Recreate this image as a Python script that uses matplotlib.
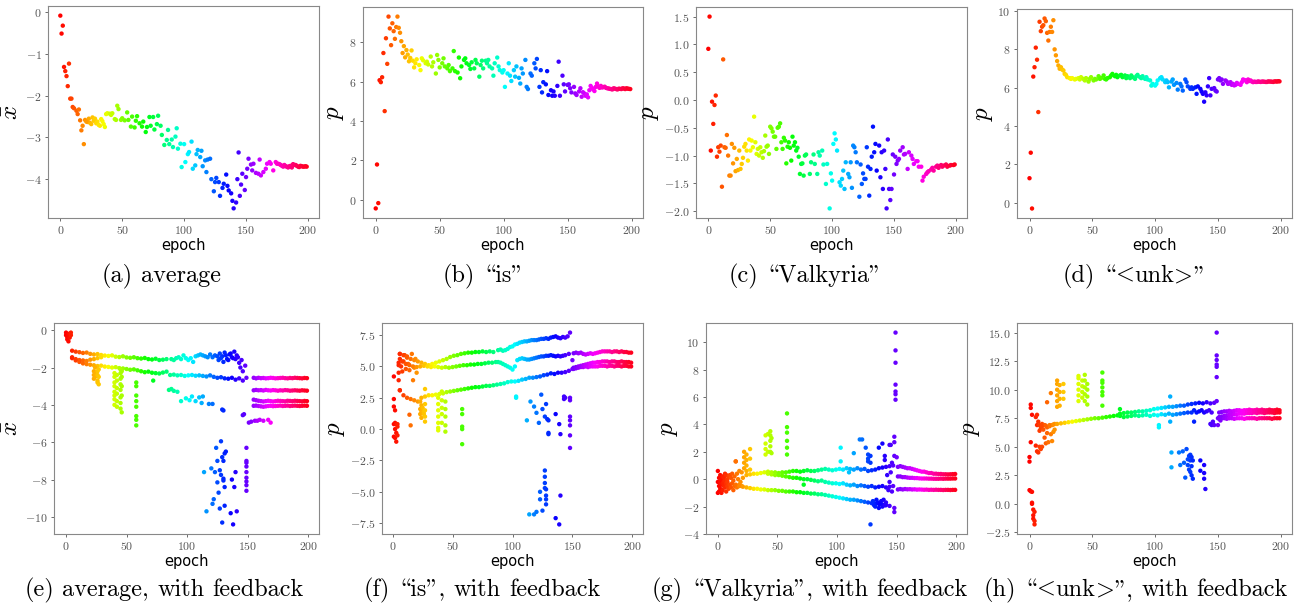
import numpy as np
import matplotlib
matplotlib.use('Agg')
import matplotlib.pyplot as plt
from matplotlib.ticker import MultipleLocator

plt.rcParams['font.family'] = ['cmr10', 'DejaVu Serif']
plt.rcParams['mathtext.fontset'] = 'cm'
plt.rcParams['axes.formatter.use_mathtext'] = True

# ---------------- (a) average ----------------
a_epoch = [0, 1, 2, 3, 4, 5, 6, 7, 8, 9,
           10, 11, 13, 14, 15, 16, 17, 18, 19, 20,
           22, 23, 24, 26, 27, 30, 32, 33, 35, 38,
           21, 25, 28, 29, 31, 34, 36, 37,
           40, 41, 42, 44, 45, 46, 47, 49, 50, 52,
           54, 55, 57, 58, 60, 61, 62, 64, 66, 67,
           69, 70, 72, 73, 75, 76, 78, 79, 81, 82,
           84, 86, 87, 88, 90, 91, 93, 94, 95, 97,
           98, 100, 101, 103, 104, 106, 107, 109, 110, 111,
           113, 114, 115, 117, 118, 119, 121, 122, 124, 125,
           126, 128, 129, 131, 132, 134, 135, 136, 138, 139,
           140, 142, 143, 144, 145, 146, 147, 149, 150, 151,
           152, 154, 155, 156, 158, 160, 161, 162, 164, 166,
           167, 169, 170, 172, 174, 175, 176, 178, 180, 182,
           184, 186, 188, 190, 192, 194, 196, 198, 199, 177,
           179, 181, 183, 185, 187, 189, 191, 193, 195, 197]
a_value = [-0.08, -0.51, -0.32, -1.31, -1.41, -1.53, -1.77, -1.23, -2.07, -2.07,
           -2.27, -2.30, -2.36, -2.44, -2.33, -2.59, -2.83, -2.72, -3.16, -2.58,
           -2.63, -2.55, -2.65, -2.52, -2.60, -2.62, -2.72, -2.56, -2.68, -2.42,
           -2.62, -2.68, -2.55, -2.66, -2.70, -2.61, -2.75, -2.44,
           -2.43, -2.46, -2.42, -2.56, -2.58, -2.24, -2.32, -2.58, -2.54, -2.59,
           -2.40, -2.58, -2.74, -2.50, -2.76, -2.60, -2.49, -2.66, -2.74, -2.62,
           -2.87, -2.75, -2.51, -2.72, -2.51, -2.81, -2.68, -2.48, -2.72, -2.94,
           -3.18, -3.06, -2.82, -3.16, -3.05, -3.23, -2.98, -2.78, -3.27, -3.15,
           -3.71, -3.16, -3.59, -3.40, -3.35, -3.10, -3.75, -3.67, -3.40, -3.30,
           -3.47, -3.32, -3.69, -3.55, -3.83, -3.53, -3.51, -4.00, -4.29, -4.07,
           -3.97, -4.07, -4.40, -4.21, -4.11, -3.89, -4.16, -4.27, -4.34, -4.52,
           -4.70, -4.56, -4.00, -3.36, -4.40, -4.13, -3.87, -4.26, -3.95, -3.75,
           -3.51, -3.65, -3.79, -3.63, -3.85, -3.87, -3.53, -3.91, -3.83, -3.75,
           -3.63, -3.59, -3.63, -3.79, -3.59, -3.63, -3.63, -3.66, -3.70, -3.69,
           -3.72, -3.68, -3.64, -3.66, -3.70, -3.68, -3.70, -3.69, -3.70, -3.64,
           -3.68, -3.66, -3.70, -3.69, -3.72, -3.66, -3.68, -3.71, -3.69, -3.70]

# ---------------- (b) "is" ----------------
b_epoch = [0, 1, 2, 3, 4, 5, 6, 7, 8, 9,
           10, 11, 12, 13, 14, 15, 16, 17, 18, 19,
           20, 21, 22, 23, 24, 25, 26, 27, 28, 29,
           30, 31, 32, 34, 35, 36, 37, 39, 40, 41,
           43, 44, 45, 47, 48, 49, 50, 52, 53, 54,
           56, 57, 58, 60, 61, 62, 64, 65, 66, 67,
           69, 70, 71, 73, 74, 75, 77, 78, 79, 81,
           82, 83, 84, 86, 87, 88, 89, 91, 92, 93,
           95, 96, 97, 99, 100, 101, 103, 104, 105, 106,
           108, 109, 110, 112, 113, 114, 115, 117, 118, 119,
           121, 122, 124, 125, 126, 128, 129, 130, 131, 133,
           134, 135, 137, 138, 139, 140, 142, 143, 144, 146,
           147, 148, 150, 151, 152, 153, 155, 156, 157, 159,
           160, 161, 163, 164, 165, 167, 168, 169, 171, 172,
           173, 175, 176, 178, 180, 182, 184, 186, 188, 190,
           192, 194, 196, 198, 199, 177, 179, 181, 183, 185,
           187, 189, 191, 193, 195, 197, 174, 170, 166, 162]
b_value = [-0.44, 1.79, -0.17, 6.07, 5.97, 6.22, 7.45, 4.50, 8.20, 6.90,
           9.30, 8.70, 7.85, 8.96, 8.56, 8.17, 8.77, 9.30, 8.73, 8.48,
           8.05, 7.45, 7.80, 7.23, 7.60, 7.37, 7.03, 7.20, 7.58, 7.06,
           6.72, 6.93, 7.13, 6.84, 6.58, 7.18, 7.08, 6.93, 7.01, 6.87,
           7.27, 6.77, 6.98, 6.41, 7.35, 7.10, 6.72, 6.93, 7.18, 6.77,
           6.67, 6.84, 6.53, 6.67, 7.55, 6.53, 6.46, 7.22, 6.17, 6.77,
           7.10, 7.18, 6.93, 6.84, 6.64, 6.98, 6.67, 7.10, 6.93, 6.25,
           6.84, 7.06, 6.67, 7.06, 6.93, 7.10, 6.77, 6.67, 6.30, 6.93,
           7.22, 6.77, 6.58, 6.46, 6.58, 5.73, 6.41, 6.93, 6.30, 6.03,
           6.58, 6.25, 6.77, 6.19, 5.90, 6.67, 6.41, 7.10, 5.73, 5.62,
           6.41, 6.30, 6.93, 6.67, 7.15, 5.73, 6.58, 5.45, 5.97, 5.86,
           6.53, 5.32, 5.56, 5.28, 5.50, 5.28, 5.78, 7.01, 5.28, 6.30,
           5.86, 5.50, 5.83, 5.86, 5.66, 5.45, 5.73, 5.40, 5.32, 5.50,
           5.66, 5.23, 5.40, 5.28, 5.35, 5.56, 5.78, 5.68, 5.52, 5.73,
           5.90, 5.68, 5.78, 5.72, 5.68, 5.65, 5.62, 5.66, 5.62, 5.64,
           5.62, 5.65, 5.66, 5.63, 5.62, 5.70, 5.74, 5.66, 5.63, 5.60,
           5.64, 5.60, 5.63, 5.66, 5.62, 5.64, 5.75, 5.60, 5.20, 5.46]

# ---------------- (c) "Valkyria" ----------------
c_epoch = [0, 1, 2, 3, 4, 5, 6, 7, 8, 9,
           10, 11, 12, 13, 14, 15, 16, 17, 18, 19,
           20, 21, 22, 23, 24, 25, 26, 27, 28, 29,
           30, 31, 32, 33, 34, 35, 36, 37, 38, 39,
           40, 41, 42, 43, 44, 45, 46, 47, 48, 49,
           50, 51, 52, 53, 54, 55, 56, 57, 58, 59,
           60, 61, 62, 63, 64, 65, 66, 67, 68, 69,
           70, 71, 72, 73, 74, 75, 76, 77, 78, 79,
           82, 83, 85, 86, 88, 89, 90, 92, 93, 95,
           96, 98, 99, 100, 101, 102, 103, 104, 106, 107,
           108, 109, 110, 111, 113, 114, 115, 116, 117, 118,
           119, 120, 122, 123, 124, 125, 126, 127, 128, 129,
           130, 131, 132, 133, 134, 135, 136, 138, 139, 140,
           141, 142, 143, 144, 145, 146, 147, 148, 149, 150,
           151, 152, 153, 154, 155, 157, 158, 159, 161, 162,
           164, 165, 166, 168, 169, 170, 172, 173, 174, 176,
           177, 178, 180, 181, 182, 184, 185, 186, 188, 189,
           190, 192, 193, 195, 196, 198, 199]
c_value = [0.92, 1.50, -0.91, -0.03, -0.43, -0.09, 0.08, -1.02, -0.85, -0.93,
           -0.82, -1.56, 0.73, -0.85, -0.86, -0.63, -1.00, -1.36, -1.36, -0.79,
           -1.14, -0.86, -1.28, -1.06, -1.26, -0.91, -1.24, -1.15, -1.04, -0.84,
           -0.79, -0.91, -1.09, -0.71, -0.91, -0.73, -0.85, -0.30, -0.76, -0.97,
           -0.88, -1.00, -0.85, -0.94, -1.04, -0.92, -0.64, -0.84, -0.82, -0.97,
           -0.48, -0.51, -0.57, -0.66, -0.66, -0.88, -0.50, -0.48, -0.42, -0.76,
           -0.88, -0.68, -0.73, -1.14, -0.84, -0.76, -0.86, -1.09, -0.66, -0.82,
           -0.76, -0.91, -0.86, -1.02, -1.33, -1.15, -1.14, -1.36, -1.00, -0.98,
           -1.33, -1.12, -0.98, -1.15, -1.33, -0.94, -1.00, -0.91, -1.16, -1.51,
           -1.15, -1.95, -1.32, -1.45, -0.79, -0.60, -0.71, -0.91, -1.48, -1.54,
           -1.42, -1.27, -1.60, -1.12, -1.33, -1.39, -1.12, -1.58, -0.82, -0.85,
           -0.94, -1.12, -1.74, -1.16, -1.51, -1.32, -1.42, -1.42, -0.85, -1.20,
           -1.72, -1.24, -1.02, -0.48, -0.94, -0.79, -1.27, -0.82, -1.39, -0.94,
           -1.60, -0.91, -1.24, -1.95, -0.71, -1.60, -1.80, -1.60, -0.98, -1.34,
           -1.02, -1.15, -1.09, -1.06, -0.91, -0.85, -0.98, -0.97, -1.24, -0.94,
           -1.00, -1.06, -1.15, -1.10, -1.10, -1.20, -1.20, -1.45, -1.38, -1.33,
           -1.30, -1.28, -1.25, -1.22, -1.27, -1.20, -1.18, -1.22, -1.17, -1.20,
           -1.18, -1.16, -1.20, -1.18, -1.17, -1.17, -1.16]

# ---------------- (d) "<unk>" ----------------
d_epoch = [0, 1, 2, 3, 4, 5, 6, 7, 8, 9,
           10, 11, 12, 13, 14, 15, 16, 17, 18, 19,
           20, 21, 22, 23, 24, 25, 26, 27, 28, 29,
           30, 32, 33, 34, 36, 37, 39, 40, 41, 43,
           44, 45, 47, 48, 49, 51, 52, 53, 55, 56,
           57, 59, 60, 61, 62, 64, 65, 66, 68, 69,
           70, 72, 73, 74, 76, 77, 78, 80, 81, 82,
           84, 85, 86, 88, 89, 90, 92, 93, 94, 96,
           97, 98, 100, 101, 102, 104, 105, 106, 108, 109,
           110, 111, 113, 114, 115, 117, 118, 120, 121, 122,
           124, 125, 126, 128, 129, 130, 132, 133, 134, 136,
           137, 138, 139, 140, 141, 142, 143, 144, 145, 147,
           148, 149, 150, 151, 152, 153, 154, 156, 157, 158,
           160, 161, 162, 164, 165, 166, 168, 169, 170, 172,
           173, 174, 176, 177, 178, 180, 182, 184, 186, 188,
           190, 192, 194, 196, 198, 199, 179, 181, 183, 185,
           187, 189, 191, 193, 195, 197, 171, 175, 163, 159]
d_value = [1.28, 2.61, -0.30, 6.58, 7.07, 8.09, 7.46, 4.73, 9.44, 8.95,
           9.18, 9.26, 9.61, 9.47, 8.86, 8.46, 8.91, 9.18, 8.91, 9.52,
           8.00, 7.69, 7.39, 7.16, 6.99, 7.07, 6.95, 6.90, 6.72, 6.67,
           6.55, 6.50, 6.46, 6.50, 6.43, 6.46, 6.50, 6.43, 6.55, 6.46,
           6.38, 6.50, 6.32, 6.46, 6.55, 6.38, 6.46, 6.43, 6.60, 6.46,
           6.50, 6.64, 6.46, 6.43, 6.50, 6.55, 6.64, 6.72, 6.60, 6.67,
           6.55, 6.64, 6.67, 6.55, 6.64, 6.50, 6.60, 6.50, 6.64, 6.55,
           6.46, 6.60, 6.67, 6.55, 6.50, 6.60, 6.46, 6.55, 6.43, 6.38,
           6.11, 6.20, 6.11, 6.20, 6.38, 6.50, 6.55, 6.43, 6.29, 6.38,
           6.29, 6.02, 6.32, 6.43, 6.15, 6.25, 5.90, 6.20, 6.07, 5.85,
           6.43, 6.29, 6.07, 5.94, 6.02, 5.94, 6.02, 5.68, 6.07, 5.94,
           5.80, 5.68, 5.27, 5.76, 5.60, 6.07, 6.50, 5.60, 5.94, 5.98,
           5.85, 5.80, 6.43, 6.50, 6.38, 6.43, 6.20, 6.38, 6.32, 6.20,
           6.29, 6.15, 6.20, 6.15, 6.25, 6.20, 6.15, 6.29, 6.43, 6.38,
           6.29, 6.43, 6.38, 6.32, 6.29, 6.30, 6.33, 6.30, 6.32, 6.30,
           6.33, 6.32, 6.30, 6.33, 6.34, 6.33, 6.32, 6.30, 6.31, 6.32,
           6.31, 6.30, 6.32, 6.31, 6.33, 6.32, 6.40, 6.35, 6.12, 6.22]

# ---------------- (e) average, with feedback ----------------
e_start_ep = [0, 0, 1, 1, 2, 2, 3, 3, 4, 4]
e_start_val = [-0.13, -0.27, -0.49, -0.36, -0.60, -0.23, -0.18, -0.40, -0.27, -0.13]
e_top_ep = list(range(5, 86, 3))
e_top_val = [-1.10, -1.15, -1.18, -1.22, -1.20, -1.27, -1.30, -1.28, -1.33, -1.36,
             -1.38, -1.35, -1.42, -1.44, -1.40, -1.46, -1.48, -1.45, -1.50, -1.52,
             -1.49, -1.55, -1.57, -1.53, -1.60, -1.58, -1.55]
e_mid_ep = list(range(5, 30, 3))
e_mid_val = [-1.45, -1.55, -1.60, -1.62, -1.65, -1.58, -1.55, -1.50, -1.45]
e_low_ep = list(range(5, 86, 3))
e_low_val = [-1.50, -1.62, -1.70, -1.78, -1.82, -1.85, -1.88, -1.92, -1.90, -1.95,
             -1.97, -2.00, -1.98, -2.03, -2.05, -2.08, -2.12, -2.10, -2.15, -2.20,
             -2.25, -2.22, -2.28, -2.30, -2.32, -2.27, -2.22]
e_top2_ep = [87, 89, 91, 93, 95, 97, 99, 101, 103, 105,
             107, 109, 111, 113, 115, 117, 119, 121, 123, 125,
             127, 129, 131, 133, 135, 137, 139, 141, 143, 145, 148,
             126, 128, 130, 132, 134, 136, 138, 140, 142, 144, 146]
e_top2_val = [-1.55, -1.60, -1.50, -1.45, -1.55, -1.35, -1.50, -1.60, -1.50, -1.70,
              -1.40, -1.35, -1.30, -1.35, -1.40, -1.45, -1.30, -1.45, -1.35, -1.40,
              -1.25, -1.40, -1.20, -1.55, -1.30, -1.45, -1.15, -1.35, -1.75, -1.60, -1.90,
              -1.60, -1.50, -1.70, -1.35, -1.60, -1.25, -1.50, -1.55, -1.45, -2.00, -2.20]
e_low2_ep = list(range(86, 150, 3))
e_low2_val = [-2.40, -2.38, -2.42, -2.40, -2.45, -2.42, -2.40, -2.44, -2.42, -2.45,
              -2.48, -2.42, -2.50, -2.55, -2.52, -2.58, -2.60, -2.55, -2.65, -2.58,
              -2.70, -2.55]
e_desc_ep = [85, 87, 89, 92, 95, 99, 102, 104, 107, 110,
             112, 113, 118, 121, 129, 130, 146, 147,
             151, 153, 156, 158, 160, 163, 167, 169]
e_desc_val = [-3.20, -3.15, -3.25, -3.30, -3.80, -3.65, -3.75, -3.55, -3.80, -3.60,
              -3.90, -3.55, -3.95, -3.95, -4.25, -4.30, -4.55, -4.50,
              -4.95, -4.90, -4.85, -4.85, -4.80, -4.85, -4.80, -4.95]
e_col_ep = [23, 23, 23, 24, 24, 24, 26, 26, 26, 26, 27, 27, 27,
            40, 40, 40, 40, 40, 40, 40, 40, 42, 42, 42, 42, 42, 42,
            45, 45, 45, 45, 45, 45, 45, 45, 46, 46, 46, 46, 46,
            58, 58, 58, 58, 58, 58, 58, 58, 72]
e_col_val = [-2.2, -2.4, -2.6, -2.0, -2.3, -2.5, -2.2, -2.4, -2.7, -2.8, -2.1, -2.5, -2.9,
             -2.3, -2.5, -2.8, -3.0, -3.3, -3.5, -3.7, -4.0, -2.4, -2.7, -3.1, -3.4, -3.8, -4.1,
             -2.1, -2.3, -2.6, -2.9, -3.2, -3.6, -3.9, -4.2, -2.2, -2.5, -3.0, -3.5, -4.4,
             -2.8, -3.0, -3.5, -3.8, -4.1, -4.6, -4.8, -5.1, -2.7]
e_far_ep = [114, 116, 120, 121, 122, 123, 124, 125, 125, 126,
            127, 127, 128, 128, 129, 129, 130, 130, 130, 131,
            131, 131, 132, 136, 137, 138, 139, 140, 141,
            149, 149, 149, 149, 149, 149, 149, 149, 149]
e_far_val = [-7.6, -9.7, -7.4, -9.3, -9.05, -7.6, -6.3, -8.15, -7.0, -8.7,
             -9.55, -7.5, -5.95, -7.75, -6.8, -10.3, -7.0, -8.05, -7.95, -6.6,
             -8.4, -9.4, -6.5, -9.8, -8.0, -10.4, -8.4, -7.6, -9.7,
             -6.3, -7.0, -7.1, -7.3, -7.6, -7.9, -8.1, -8.3, -8.6]
e_late_ep = list(range(155, 200, 2))
e_late1 = [-2.55, -2.58, -2.55, -2.57, -2.56, -2.58, -2.57, -2.55, -2.56, -2.58,
           -2.57, -2.56, -2.55, -2.57, -2.58, -2.56, -2.57, -2.55, -2.56, -2.57,
           -2.58, -2.56, -2.57]
e_late2 = [-3.22, -3.20, -3.22, -3.21, -3.23, -3.20, -3.22, -3.23, -3.21, -3.22,
           -3.24, -3.22, -3.23, -3.21, -3.22, -3.24, -3.23, -3.22, -3.23, -3.24,
           -3.22, -3.23, -3.24]
e_late3 = [-3.72, -3.75, -3.78, -3.80, -3.82, -3.80, -3.78, -3.80, -3.82, -3.80,
           -3.78, -3.79, -3.80, -3.81, -3.78, -3.79, -3.80, -3.78, -3.79, -3.80,
           -3.81, -3.79, -3.80]
e_late4 = [-4.05, -4.04, -4.06, -4.08, -4.10, -4.08, -4.06, -4.05, -4.07, -4.06,
           -4.05, -4.04, -4.06, -4.05, -4.04, -4.06, -4.05, -4.04, -4.05, -4.06,
           -4.05, -4.04, -4.05]

# ---------------- (f) "is", with feedback ----------------
f_start_ep = [1, 1, 1, 1, 1, 2, 2, 2, 2, 3, 3, 3, 4, 4, 4, 5, 5, 5, 5, 6, 6, 6,
              7, 8, 9, 10, 11, 12, 13, 14, 16, 18, 19, 20]
f_start_val = [4.2, 2.4, 1.8, 0.4, -0.6, 1.5, 0.5, 0.0, -0.7, 0.4, -0.3, -1.0,
               0.4, -0.5, 0.2, 3.9, 4.5, 5.1, 5.3, 6.0, 5.6, 3.1,
               5.0, 4.6, 5.4, 5.9, 4.8, 5.7, 5.2, 4.7, 6.0, 4.9, 5.6, 4.5]
f_top_ep = list(range(6, 87, 3))
f_top_val = [6.0, 5.9, 5.8, 5.6, 5.5, 5.4, 5.3, 5.2, 5.1, 5.2,
             5.3, 5.4, 5.5, 5.6, 5.75, 5.85, 5.9, 6.0, 6.05, 6.1,
             6.1, 6.15, 6.15, 6.2, 6.15, 6.2, 6.15]
f_mid_ep = list(range(8, 87, 3))
f_mid_val = [5.4, 5.2, 5.1, 5.0, 4.95, 5.0, 5.05, 5.0, 4.95, 5.0,
             4.95, 4.9, 4.95, 4.9, 4.95, 5.0, 5.05, 5.1, 5.1, 5.15,
             5.15, 5.2, 5.2, 5.25, 5.3, 5.3, 5.35]
f_low_ep = list(range(6, 151, 3))
f_low_val = [3.1, 2.7, 2.5, 2.4, 2.3, 2.2, 2.5, 2.6, 2.7, 2.7,
             2.75, 2.8, 2.85, 2.95, 3.0, 3.05, 3.1, 3.15, 3.2, 3.25,
             3.3, 3.35, 3.35, 3.4, 3.45, 3.45, 3.5, 3.55, 3.6, 3.65,
             3.75, 3.8, 3.8, 3.85, 3.95, 4.0, 4.1, 4.1, 4.15, 4.2,
             4.3, 4.35, 4.45, 4.4, 4.5, 4.5, 4.55, 4.65, 4.8]
f_top2_ep = list(range(88, 149, 2))
f_top2_val = [6.3, 6.35, 6.25, 6.3, 6.4, 6.55, 6.6, 6.75, 6.8, 6.9,
              6.95, 7.0, 7.0, 7.05, 7.1, 7.1, 7.1, 7.15, 7.2, 7.2,
              7.25, 7.2, 7.3, 7.35, 7.4, 7.3, 7.25, 7.35, 7.3, 7.4, 7.7]
f_mid2_ep = list(range(88, 145, 2)) + [147, 150]
f_mid2_val = [5.35, 5.3, 5.2, 5.1, 5.0, 4.9, 4.75, 5.0, 5.5, 5.6,
              5.65, 5.6, 5.55, 5.55, 5.6, 5.65, 5.7, 5.75, 5.8, 5.8,
              5.85, 5.85, 5.9, 5.85, 5.8, 5.85, 5.8, 5.85, 5.9, 6.0, 5.5]
f_col_ep = [14, 15, 17, 23, 23, 23, 24, 24, 24, 25, 26, 26, 27, 27, 27, 27, 27,
            38, 38, 38, 38, 38, 38, 38, 41, 41, 41, 41, 41, 44, 44, 44, 44, 44,
            58, 58, 58, 58, 58]
f_col_val = [1.15, 0.3, 3.9, 2.2, 1.6, 1.2, 1.9, 1.4, 0.9, 1.7, 1.2, 1.4, 3.2, 2.0, 1.5, 1.0, 0.6,
             2.5, 2.0, 1.5, 1.0, 0.5, 0.1, -0.1, 3.0, 2.3, 1.7, 1.2, 0.5, 2.2, 1.6, 1.0, 0.3, -0.2,
             1.6, 1.2, 0.2, 0.0, -1.2]
f_scat_ep = [103, 103, 112, 115, 118, 120, 122, 124, 125, 127,
             128, 129, 130, 130, 130, 136, 139, 140, 143, 143,
             144, 148, 148, 148, 148, 148, 148, 148,
             114, 118, 120, 123, 123, 125, 127, 127, 127, 127,
             128, 128, 128, 128, 136, 139, 140]
f_scat_val = [2.6, 2.5, 0.7, 2.2, 1.8, 1.3, 0.5, 2.75, 1.6, 1.0,
              2.0, 0.8, -0.3, 0.7, -0.4, 1.2, 0.4, -0.4, 2.6, 2.4,
              2.5, 2.5, 2.3, 1.0, 0.7, 0.3, -0.5, -1.5,
              -6.8, -6.8, -6.6, -5.0, -5.6, -6.5, -3.3, -3.8, -4.3, -4.7,
              -4.8, -5.3, -5.6, -6.0, -7.1, -7.6, -5.3]
f_late_ep = list(range(151, 200, 2))
f_late1 = [6.05, 6.1, 6.05, 6.1, 6.0, 5.95, 6.0, 6.05, 6.0, 6.05,
           6.1, 6.15, 6.2, 6.2, 6.2, 6.2, 6.15, 6.2, 6.2, 6.15,
           6.2, 6.15, 6.15, 6.1, 6.1]
f_late2 = [4.9, 4.95, 5.0, 5.05, 5.1, 5.15, 5.2, 5.25, 5.3, 5.3,
           5.35, 5.35, 5.4, 5.4, 5.4, 5.35, 5.4, 5.4, 5.35, 5.35,
           5.4, 5.35, 5.35, 5.35, 5.3]
f_late3 = [4.8, 4.85, 4.9, 4.95, 4.95, 5.0, 4.95, 5.0, 5.0, 5.0,
           5.0, 5.05, 5.05, 5.05, 5.0, 5.05, 5.05, 5.0, 5.05, 5.05,
           5.0, 5.05, 5.05, 5.0, 5.0]

# ---------------- (g) "Valkyria", with feedback ----------------
g_start_ep = [0, 0, 0, 1, 1, 1, 2, 2, 2, 3, 3, 3, 4, 4, 4, 5, 5, 5, 6, 6, 6,
              7, 7, 7, 8, 8, 8, 9, 9, 10, 10, 11, 11, 12, 12, 13, 13, 14, 14,
              15, 16, 16, 17, 18, 18, 19, 20, 20]
g_start_val = [0.6, -0.2, -1.0, 0.1, -0.5, -0.9, 0.3, -0.2, -0.7, 0.0, -0.4, -1.0,
               0.2, -0.3, -0.8, 0.1, -0.5, -0.2, 0.4, -0.1, -0.6, 0.3, -0.3, -0.9,
               0.0, -0.5, -0.2, 0.2, -0.7, 0.3, -0.4, 0.1, -0.6, 0.4, -0.3,
               -0.1, -0.8, 0.2, -0.5, 1.3, 0.4, -0.6, 0.0, -0.4, 0.6, -0.2, 0.5, -0.5]
g_top_ep = list(range(21, 85, 3))
g_top_val = [0.1, 0.3, 0.35, 0.4, 0.4, 0.45, 0.5, 0.55, 0.5, 0.5,
             0.45, 0.5, 0.5, 0.55, 0.6, 0.6, 0.55, 0.6, 0.65, 0.6,
             0.6, 0.65]
g_mid_ep = list(range(42, 148, 3))
g_mid_val = [0.4, 0.35, 0.3, 0.3, 0.25, 0.2, 0.15, 0.1, 0.1, 0.05,
             0.0, 0.0, -0.05, -0.1, -0.15, -0.1, -0.2, -0.25, -0.3, -0.3,
             -0.35, -0.3, -0.4, -0.45, -0.4, -0.5, -0.45, -0.5, -0.55, -0.5,
             -0.6, -0.55, -0.5, -0.6, -0.55, -0.5]
g_low_ep = list(range(15, 145, 3))
g_low_val = [-0.4, -0.5, -0.55, -0.6, -0.65, -0.7, -0.7, -0.75, -0.75, -0.8,
             -0.8, -0.8, -0.85, -0.85, -0.9, -0.9, -0.9, -0.95, -0.95, -1.0,
             -1.0, -1.05, -1.05, -1.1, -1.1, -1.15, -1.2, -1.25, -1.3, -1.35,
             -1.4, -1.45, -1.5, -1.5, -1.55, -1.6, -1.65, -1.7, -1.75, -1.8,
             -1.8, -1.85, -1.9, -1.95]
g_top2_ep = list(range(87, 150, 3))
g_top2_val = [0.7, 0.75, 0.7, 0.65, 0.7, 0.75, 0.7, 0.8, 0.75, 0.7,
              0.8, 0.7, 0.75, 0.6, 0.65, 0.7, 0.8, 0.85, 0.9, 0.95, 1.0]
g_blue_ep = [130, 131, 132, 133, 134, 135, 136, 137, 138, 139, 140, 141, 142, 143, 144, 145, 146]
g_blue_val = [-1.6, -1.9, -2.0, -1.5, -1.7, -2.1, -1.8, -1.6, -2.0, -1.5, -1.9, -1.7,
              0.3, -0.8, -0.2, 0.5, -0.9]
g_col_ep = [15, 22, 22, 22, 22, 24, 24, 24, 24, 27, 27, 27,
            40, 40, 40, 40, 42, 42, 44, 44, 44, 44, 44, 45, 45,
            58, 58, 58, 58, 58, 58, 72]
g_col_val = [1.3, 0.8, 1.2, 1.6, 2.0, 0.6, 1.0, 1.4, 1.8, 0.7, 1.5, 2.2,
             1.8, 2.2, 2.6, 3.2, 2.0, 3.3, 2.0, 2.4, 2.8, 3.2, 3.5, 1.9, 3.0,
             1.8, 2.3, 2.8, 3.4, 3.8, 4.8, -0.4]
g_scat_ep = [103, 103, 110, 114, 119, 121, 124, 126, 126, 126,
             128, 128, 128, 135, 138, 140, 140, 144, 145, 146,
             148, 148, 148, 148, 148, 149, 149, 149, 149, 149, 149, 149, 150]
g_scat_val = [2.3, 1.3, 0.5, 1.9, 2.9, 2.9, 2.3, 1.8, 1.3, 1.5,
              1.7, 1.2, -3.3, 2.3, 2.6, 1.7, 1.4, 2.5, 2.5, 1.2,
              -2.1, -2.4, 2.7, 3.1, 1.7, 5.8, 6.2, 6.4, 6.9, 8.5, 9.4, 10.7, 1.6]
g_late_ep = list(range(151, 200, 2))
g_late1 = [0.9, 0.95, 0.9, 0.85, 0.8, 0.8, 0.75, 0.7, 0.65, 0.6,
           0.55, 0.55, 0.5, 0.45, 0.45, 0.4, 0.4, 0.38, 0.38, 0.36,
           0.36, 0.35, 0.36, 0.37, 0.38]
g_late2 = [0.2, 0.2, 0.15, 0.15, 0.12, 0.1, 0.1, 0.08, 0.08, 0.06,
           0.05, 0.05, 0.05, 0.04, 0.04, 0.03, 0.03, 0.03, 0.04, 0.03,
           0.04, 0.04, 0.04, 0.05, 0.05]
g_late3 = [-0.75, -0.72, -0.75, -0.72, -0.74, -0.73, -0.75, -0.74, -0.76, -0.75,
           -0.76, -0.77, -0.76, -0.78, -0.77, -0.78, -0.77, -0.78, -0.78, -0.79,
           -0.78, -0.78, -0.79, -0.78, -0.78]

# ---------------- (h) "<unk>", with feedback ----------------
h_start_ep = [0, 0, 0, 1, 1, 1, 1, 2, 2, 2, 2, 3, 3, 3, 4, 4, 4, 5, 5, 6, 6, 6,
              7, 7, 8, 8, 8, 9, 9, 10, 10, 11, 12, 12, 13, 14, 14, 15, 16, 17,
              18, 18, 19, 20, 20]
h_start_val = [4.1, 3.7, 1.2, 8.7, 8.4, 1.1, 5.4, 7.8, 1.05, 0.1, 0.0,
               -0.5, -1.0, -1.3, -0.7, -1.5, -1.8, 7.6, 5.1, 7.8, 6.9, 4.6,
               7.2, 4.5, 6.9, 6.4, 5.0, 4.8, 6.6, 5.0, 7.0, 6.5, 5.8, 6.9,
               5.3, 6.7, 6.2, 5.4, 6.8, 6.1, 5.5, 6.9, 6.3, 6.5, 7.0]
h_main_ep = list(range(10, 71, 3))
h_main_val = [6.8, 6.85, 6.9, 6.95, 7.0, 7.05, 7.1, 7.15, 7.2, 7.25,
              7.3, 7.35, 7.4, 7.45, 7.5, 7.5, 7.55, 7.6, 7.65, 7.7, 7.75]
h_up_ep = list(range(72, 150, 3))
h_up_val = [7.9, 7.95, 8.0, 8.0, 8.05, 8.1, 8.1, 8.15, 8.2, 8.3,
            8.35, 8.4, 8.45, 8.5, 8.5, 8.55, 8.6, 8.6, 8.7, 8.75,
            8.8, 8.85, 8.8, 8.9, 8.8, 8.85]
h_lo_ep = list(range(72, 132, 3)) + [131, 133, 135, 137, 139, 141, 143, 145]
h_lo_val = [7.7, 7.6, 7.65, 7.7, 7.75, 7.7, 7.75, 7.8, 7.7, 7.8,
            7.75, 7.85, 7.8, 7.9, 7.8, 7.85, 7.9, 7.95, 8.0, 8.0,
            8.2, 8.0, 8.1, 8.2, 8.0, 8.1, 8.2, 8.0]
h_col_ep = [14, 17, 22, 22, 22, 22, 22, 22, 24, 24, 24, 24, 27, 27, 27,
            39, 39, 39, 39, 39, 39, 42, 42, 42, 42, 44, 44, 44, 44, 44,
            46, 46, 46, 46, 58, 58, 58, 58, 58, 58, 58, 72]
h_col_val = [8.9, 9.7, 8.5, 9.0, 9.5, 10.0, 10.5, 10.8, 8.6, 9.2, 9.8, 10.4, 9.2, 9.8, 10.5,
             9.0, 9.5, 10.0, 10.5, 11.0, 11.2, 9.3, 9.8, 10.3, 10.8, 9.0, 9.6, 10.2, 10.8, 11.3,
             8.7, 9.4, 10.0, 10.5, 8.6, 9.5, 9.8, 10.2, 10.6, 10.8, 11.5, 8.3]
h_scat_ep = [103, 103, 112, 112,
             113, 113, 119, 120, 122, 123, 124, 125, 126, 126,
             127, 127, 128, 128, 128, 129, 129, 129, 130, 130,
             136, 136, 139, 139, 139, 140,
             131, 144, 145, 146, 147, 149, 149, 149, 149, 149, 149, 149, 150, 150, 152]
h_scat_val = [6.7, 6.9, 7.2, 9.4,
              4.5, 3.2, 4.5, 3.4, 4.6, 3.6, 2.3, 4.8, 3.9, 3.4,
              4.2, 3.0, 4.3, 3.8, 2.8, 4.1, 3.3, 2.5, 3.8, 2.2,
              3.8, 2.9, 3.4, 2.7, 2.2, 1.3,
              7.2, 7.0, 6.9, 7.2, 6.9, 9.0, 11.1, 12.0, 12.2, 12.6, 13.0, 15.0, 6.9, 7.5, 7.3]
h_late_ep = list(range(151, 200, 2))
h_late1 = [8.0, 8.05, 8.1, 8.1, 8.15, 8.1, 8.15, 8.2, 8.2, 8.15,
           8.2, 8.2, 8.25, 8.2, 8.2, 8.25, 8.2, 8.25, 8.2, 8.2,
           8.25, 8.2, 8.2, 8.25, 8.2]
h_late2 = [7.6, 7.65, 7.7, 7.75, 7.8, 7.8, 7.85, 7.85, 7.9, 7.9,
           7.9, 7.95, 7.95, 7.95, 8.0, 7.95, 8.0, 8.0, 7.95, 8.0,
           8.0, 8.0, 7.95, 8.0, 8.0]
h_late3 = [7.45, 7.5, 7.5, 7.45, 7.5, 7.5, 7.45, 7.5, 7.5, 7.5,
           7.45, 7.5, 7.5, 7.5, 7.5, 7.45, 7.5, 7.5, 7.5, 7.5,
           7.5, 7.45, 7.5, 7.5, 7.5]

W, H = 1294, 606
CAP_SIZE = 17.5


def box(l, t, r, b):
    return [l / W, 1 - b / H, (r - l) / W, (b - t) / H]


def draw(ax, groups, ylabel, step):
    x = np.concatenate([np.asarray(g[0], float) for g in groups])
    y = np.concatenate([np.asarray(g[1], float) for g in groups])
    ax.scatter(x, y, c=x, cmap='hsv', vmin=0, vmax=200, s=10, linewidths=0)
    ax.set_xlabel('epoch', family='DejaVu Sans', fontsize=10.5, labelpad=1)
    ax.set_ylabel(ylabel, fontsize=18, labelpad=2)
    ax.xaxis.set_major_locator(MultipleLocator(50))
    ax.yaxis.set_major_locator(MultipleLocator(step))
    ax.tick_params(labelsize=8.5, colors='#555555', length=2.5, width=0.6, pad=2)
    for sp in ax.spines.values():
        sp.set_color('#888888')


def caption(fig, cx, cy, pieces):
    # lay the pieces side by side on one baseline, centred on cx
    renderer = fig.canvas.get_renderer()
    gap = CAP_SIZE * 100 / 72 * 0.333
    items = []
    for p in pieces:
        if p == ' ':
            items.append((None, gap))
            continue
        text, family = (p, None) if isinstance(p, str) else p
        t = fig.text(0, 1 - cy / H, text, fontsize=CAP_SIZE, va='baseline', ha='left')
        if family:
            t.set_family(family)
        items.append((t, t.get_window_extent(renderer).width))
    x = cx - sum(w for _, w in items) / 2
    for t, w in items:
        if t is not None:
            t.set_x(x / W)
        x += w


fig = plt.figure(figsize=(W / 100, H / 100), dpi=100)

panels = [
    (box(48, 6, 319, 218), [(a_epoch, a_value)], r'$\bar{x}$', 1),
    (box(363, 7, 643, 218), [(b_epoch, b_value)], r'$p$', 2),
    (box(696, 7, 967, 218), [(c_epoch, c_value)], r'$p$', 0.5),
    (box(1017, 9, 1292, 218), [(d_epoch, d_value)], r'$p$', 2),
    (box(54, 323, 319, 534),
     [(e_start_ep, e_start_val), (e_top_ep, e_top_val), (e_mid_ep, e_mid_val),
      (e_low_ep, e_low_val), (e_top2_ep, e_top2_val), (e_low2_ep, e_low2_val),
      (e_desc_ep, e_desc_val), (e_col_ep, e_col_val), (e_far_ep, e_far_val),
      (e_late_ep, e_late1), (e_late_ep, e_late2), (e_late_ep, e_late3),
      (e_late_ep, e_late4)], r'$\bar{x}$', 2),
    (box(382, 323, 643, 534),
     [(f_start_ep, f_start_val), (f_top_ep, f_top_val), (f_mid_ep, f_mid_val),
      (f_low_ep, f_low_val), (f_top2_ep, f_top2_val), (f_mid2_ep, f_mid2_val),
      (f_col_ep, f_col_val), (f_scat_ep, f_scat_val), (f_late_ep, f_late1),
      (f_late_ep, f_late2), (f_late_ep, f_late3)], r'$p$', 2.5),
    (box(706, 323, 967, 534),
     [(g_start_ep, g_start_val), (g_top_ep, g_top_val), (g_mid_ep, g_mid_val),
      (g_low_ep, g_low_val), (g_top2_ep, g_top2_val), (g_blue_ep, g_blue_val),
      (g_col_ep, g_col_val), (g_scat_ep, g_scat_val), (g_late_ep, g_late1),
      (g_late_ep, g_late2), (g_late_ep, g_late3)], r'$p$', 2),
    (box(1017, 323, 1292, 534),
     [(h_start_ep, h_start_val), (h_main_ep, h_main_val), (h_up_ep, h_up_val),
      (h_lo_ep, h_lo_val), (h_col_ep, h_col_val), (h_scat_ep, h_scat_val),
      (h_late_ep, h_late1), (h_late_ep, h_late2), (h_late_ep, h_late3)], r'$p$', 2.5),
]

for rect, groups, ylabel, step in panels:
    ax = fig.add_axes(rect)
    draw(ax, groups, ylabel, step)

# cmr10 keeps TeX's layout: "\" is the opening and '"' the closing double quote;
# the angle brackets come from the math italic font cmmi10
LT, GT = ('<', 'cmmi10'), ('>', 'cmmi10')
captions = [
    (161, 282, ['(a)', ' ', 'average']),
    (483, 282, ['(b)', ' ', '\\is"']),
    (805, 282, ['(c)', ' ', '\\Valkyria"']),
    (1134, 282, ['(d)', ' ', '\\', LT, 'unk', GT, '"']),
    (164, 596, ['(e)', ' ', 'average,', ' ', 'with', ' ', 'feedback']),
    (482, 596, ['(f)', ' ', '\\is",', ' ', 'with', ' ', 'feedback']),
    (810, 596, ['(g)', ' ', '\\Valkyria",', ' ', 'with', ' ', 'feedback']),
    (1136, 596, ['(h)', ' ', '\\', LT, 'unk', GT, '",', ' ', 'with', ' ', 'feedback']),
]
for cx, cy, pieces in captions:
    caption(fig, cx, cy, pieces)

fig.savefig('out.png', dpi=100)
